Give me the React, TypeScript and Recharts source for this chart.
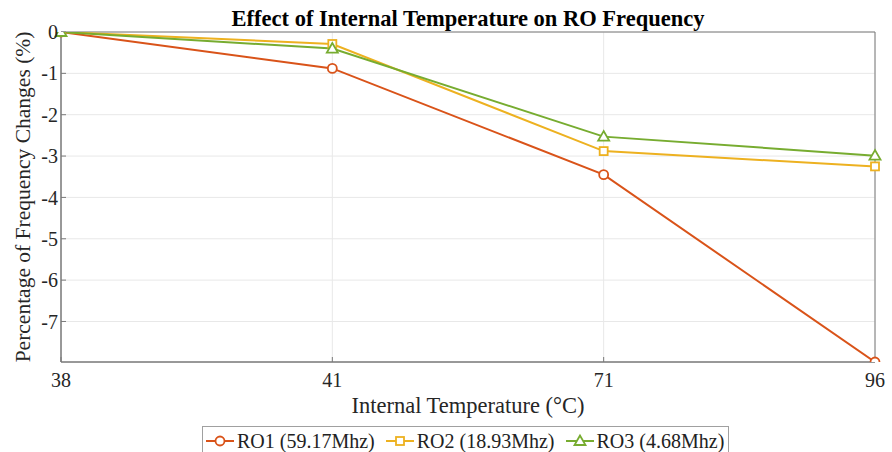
import React from 'react';
import {
    LineChart,
    Line,
    XAxis,
    YAxis,
    CartesianGrid,
    Legend,
    ReferenceArea,
    Label,
} from 'recharts';

// internal temperature (°C), equally spaced categories
const temperatures = ['38', '41', '71', '96'];
// % frequency change per ring oscillator
const ro1Values = [0, -0.88, -3.45, -7.98];
const ro2Values = [0, -0.29, -2.88, -3.25];
const ro3Values = [0, -0.4, -2.53, -2.99];
const yTicks = [0, -1, -2, -3, -4, -5, -6, -7];
const yMin = -7.98;

const series = [
    { key: 'ro1', name: 'RO1 (59.17Mhz)', color: '#D95319', marker: 'circle' },
    { key: 'ro2', name: 'RO2 (18.93Mhz)', color: '#EDB120', marker: 'square' },
    { key: 'ro3', name: 'RO3 (4.68Mhz)', color: '#77AC30', marker: 'triangle' },
];

const data = temperatures.map((t, i) => ({
    temp: t,
    ro1: ro1Values[i],
    ro2: ro2Values[i],
    ro3: ro3Values[i],
}));

const FONT = '"Liberation Serif", "Times New Roman", serif';

function Marker({ cx, cy, color, kind }: any) {
    if (cx == null || cy == null) return null;
    if (kind === 'circle') {
        return <circle cx={cx} cy={cy} r={4.5} fill="#fff" stroke={color} strokeWidth={1.8} />;
    }
    if (kind === 'square') {
        return <rect x={cx - 4} y={cy - 4} width={8} height={8} fill="#fff" stroke={color} strokeWidth={1.8} />;
    }
    return (
        <polygon
            points={`${cx},${cy - 5.5} ${cx - 5.5},${cy + 4} ${cx + 5.5},${cy + 4}`}
            fill="#fff"
            stroke={color}
            strokeWidth={1.8}
        />
    );
}

function LegendBox() {
    return (
        <div
            style={{
                display: 'flex',
                alignItems: 'center',
                border: '1px solid #a0a0a0',
                background: '#fff',
                height: 28,
                padding: '0 2px',
                fontFamily: FONT,
                fontSize: 20,
                color: '#222',
                whiteSpace: 'nowrap',
            }}
        >
            {series.map((s, i) => (
                <div key={s.key} style={{ display: 'flex', alignItems: 'center', marginRight: i < series.length - 1 ? 10 : 2 }}>
                    <svg width={30} height={16} style={{ marginRight: 2 }}>
                        <line x1={1} y1={8} x2={29} y2={8} stroke={s.color} strokeWidth={2} />
                        <Marker cx={15} cy={8} color={s.color} kind={s.marker} />
                    </svg>
                    <span>{s.name}</span>
                </div>
            ))}
        </div>
    );
}

export default function App() {
    return (
        <div style={{ position: 'absolute', left: 0, top: 0, width: 892, height: 452, background: '#fff', overflow: 'hidden' }}>
            <div
                style={{
                    position: 'absolute',
                    top: 6,
                    left: 61,
                    width: 814,
                    textAlign: 'center',
                    fontFamily: FONT,
                    fontWeight: 'bold',
                    fontSize: 22.5,
                    color: '#000',
                    lineHeight: '26px',
                }}
            >
                Effect of Internal Temperature on RO Frequency
            </div>
            <LineChart width={892} height={452} data={data} margin={{ top: 32, right: 17, left: 11, bottom: 30 }}>
                <CartesianGrid stroke="#e8e8e8" strokeWidth={1} />
                <XAxis
                    dataKey="temp"
                    height={30}
                    tickSize={-5}
                    tickMargin={16}
                    stroke="#7a7a7a"
                    tick={{ fill: '#262626', fontSize: 20, fontFamily: FONT }}
                    interval={0}
                >
                    <Label
                        value="Internal Temperature (°C)"
                        position="insideBottom"
                        offset={-21}
                        style={{ fill: '#262626', fontSize: 22.5, fontFamily: FONT }}
                    />
                </XAxis>
                <YAxis
                    width={50}
                    domain={[yMin, 0]}
                    ticks={yTicks}
                    tickSize={-5}
                    tickMargin={8}
                    stroke="#7a7a7a"
                    tick={{ fill: '#262626', fontSize: 20, fontFamily: FONT }}
                    allowDataOverflow
                >
                    <Label
                        value="Percentage of Frequency Changes (%)"
                        angle={-90}
                        position="insideLeft"
                        offset={11}
                        style={{ textAnchor: 'middle', fill: '#262626', fontSize: 21.5, fontFamily: FONT }}
                    />
                </YAxis>
                <ReferenceArea x1="38" x2="96" y1={yMin} y2={0} fill="none" stroke="#7a7a7a" strokeWidth={1} ifOverflow="visible" />
                {series.map((s) => (
                    <Line
                        key={s.key}
                        dataKey={s.key}
                        name={s.name}
                        stroke={s.color}
                        strokeWidth={2}
                        isAnimationActive={false}
                        dot={(p: any) => <Marker key={`${s.key}-${p.index}`} cx={p.cx} cy={p.cy} color={s.color} kind={s.marker} />}
                        activeDot={false}
                    />
                ))}
                <Legend
                    layout="vertical"
                    align="center"
                    verticalAlign="bottom"
                    content={() => <LegendBox />}
                    wrapperStyle={{ position: 'absolute', left: 202, top: 426, width: 'auto', bottom: 'auto' }}
                />
            </LineChart>
        </div>
    );
}
